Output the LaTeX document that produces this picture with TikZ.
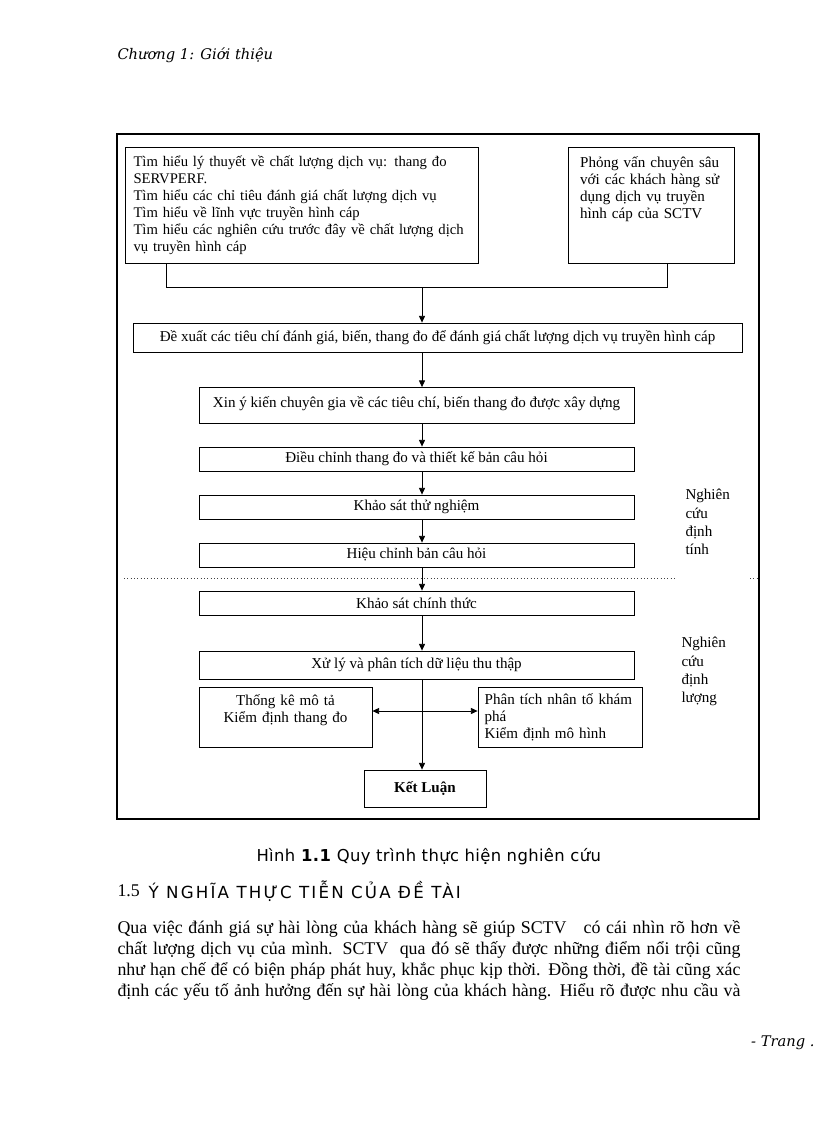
\documentclass[tikz,border=0pt]{standalone}
\usepackage{fontspec}
\setmainfont{Liberation Serif}
\newfontfamily\sansvn{DejaVu Sans}[LetterSpace=2.2]
\newfontfamily\sanswide{DejaVu Sans}[LetterSpace=13]
\newfontfamily\headvn{DejaVu Serif}
\usetikzlibrary{arrows.meta}

\tikzset{every picture/.style={line width=0.75pt}}
\tikzset{
  stepbox/.style={draw, line width=0.6pt, inner sep=0pt, font=\fontsize{11.3}{12.75}\selectfont, minimum width=326.25pt, minimum height=18pt},
  textbox/.style={draw, line width=0.6pt, inner ysep=0pt, font=\fontsize{11.3}{12.75}\selectfont},
  flow/.style={-{Triangle[length=5pt,width=4.5pt]}, line width=0.6pt},
  sidenote/.style={anchor=north west, inner sep=0pt, align=left, font=\fontsize{11.3}{13.6}\selectfont}
}

\begin{document}
\begin{tikzpicture}[x=0.75pt,y=0.75pt,yscale=-1,xscale=1]
		\useasboundingbox (0,0) rectangle (816,1123); %page of 816 x 1123
		\fill [white] (0,0) rectangle (816,1123);
		
		\draw (117,55) node [anchor=west, inner sep=0pt, font=\headvn\itshape\fontsize{11}{13}\selectfont] (chapter) {Chương 1: Giới thiệu};
		
		% frame round the figure
		\draw [line width=0.8pt] (117,134) rectangle (759,819);
		
		% two sources
		\draw (301.5,205) node [textbox, align=left, text width=252pt, inner xsep=6.4pt, minimum height=87pt, font=\fontsize{11}{12.75}\selectfont] (lit) {Tìm hiểu lý thuyết về chất lượng dịch vụ: thang đo\\SERVPERF.\\Tìm hiểu các chỉ tiêu đánh giá chất lượng dịch vụ\\Tìm hiểu về lĩnh vực truyền hình cáp\\\mbox{Tìm hiểu các nghiên cứu trước đây về chất lượng dịch}\\vụ truyền hình cáp};
		\draw (651.5,205) node [textbox, align=left, text width=107pt, inner xsep=9pt, minimum height=87pt] (interview) {Phỏng vấn chuyên sâu\\với các khách hàng sử\\dụng dịch vụ truyền\\hình cáp của SCTV\\\mbox{}\\\mbox{}};
		
		\coordinate (jl) at (166,287);
		\coordinate (jr) at (667,287);
		\coordinate (jm) at (422,287);
		\coordinate (spine) at (422,0);
		\draw [line width=0.6pt] (lit.south -| jl) -- (jl) -- (jr) -- (interview.south -| jr);
		
		% main column
		\draw (437.5,337.5) node [stepbox, minimum width=456.75pt, minimum height=21.75pt] (propose) {Đề xuất các tiêu chí đánh giá, biến, thang đo để đánh giá chất lượng dịch vụ truyền hình cáp};
		\draw (416.5,405.5) node [stepbox, minimum height=27pt, text depth=5pt] (expert) {Xin ý kiến chuyên gia về các tiêu chí, biến thang đo được xây dựng};
		\draw (416.5,459) node [stepbox] (adjust) {Điều chỉnh thang đo và thiết kế bản câu hỏi};
		\draw (416.5,507) node [stepbox] (pilot) {Khảo sát thử nghiệm};
		\draw (416.5,555) node [stepbox] (revise) {Hiệu chỉnh bản câu hỏi};
		\draw (416.5,603) node [stepbox] (survey) {Khảo sát chính thức};
		\draw (416.5,665) node [stepbox, minimum height=21pt] (analyse) {Xử lý và phân tích dữ liệu thu thập};
		
		\draw (285.5,717) node [textbox, align=center, text width=121.75pt, inner xsep=4pt, minimum height=45pt] (describe) {Thống kê mô tả\\Kiểm định thang đo\\\mbox{}};
		\draw (560,717) node [textbox, align=left, text width=113pt, inner xsep=5pt, minimum height=45pt] (efa) {Phân tích nhân tố khám\\phá\\Kiểm định mô hình};
		\draw (425,788.5) node [stepbox, minimum width=91.5pt, minimum height=27.75pt, font=\bfseries\fontsize{11.3}{12.75}\selectfont] (conclude) {Kết Luận};
		
		\draw [flow] (jm) -- (propose.north -| spine);
		\draw [flow] (propose.south -| spine) -- (expert.north -| spine);
		\draw [flow] (expert.south -| spine) -- (adjust.north -| spine);
		\draw [flow] (adjust.south -| spine) -- (pilot.north -| spine);
		\draw [flow] (pilot.south -| spine) -- (revise.north -| spine);
		\draw [flow] (revise.south -| spine) -- (survey.north -| spine);
		\draw [flow] (survey.south -| spine) -- (analyse.north -| spine);
		\draw [flow] (analyse.south -| spine) -- (conclude.north -| spine);
		\draw [{Triangle[length=5pt,width=4.5pt]}-{Triangle[length=5pt,width=4.5pt]}, line width=0.6pt] ([yshift=-4.5pt]describe.east) -- ([yshift=-4.5pt]efa.west);
		
		% split between the two phases
		\draw [dotted, line width=0.5pt, black!75] (124,578) -- (675,578);
		\draw [dotted, line width=0.5pt, black!75] (750,578) -- (757,578);
		
		\draw (685,489) node [sidenote] (qualit) {Nghiên\\cứu\\định\\tính};
		\draw (681,637) node [sidenote] (quantit) {Nghiên\\cứu\\định\\lượng};
		
		% text of the page below the figure
		\draw (256,857) node [anchor=west, inner sep=0pt, font=\sansvn\fontsize{12.3}{14}\selectfont] (caption) {Hình \textbf{1.1} Quy trình thực hiện nghiên cứu};
		\draw (117,891) node [anchor=west, inner sep=0pt, font=\fontsize{13.4}{15}\selectfont] (secno) {1.5};
		\draw (148,891) node [anchor=west, inner sep=0pt, font=\sanswide\fontsize{12.5}{14}\selectfont] (sectitle) {Ý NGHĨA THỰC TIỄN CỦA ĐỀ TÀI};
		\draw (117,920) node [anchor=north west, inner sep=0pt, text width=467.25pt, align=justify, font=\fontsize{13.4}{15.75}\selectfont] (body) {Qua việc đánh giá sự hài lòng của khách hàng sẽ giúp SCTV~~ có cái nhìn rõ hơn về\linebreak chất lượng dịch vụ của mình. SCTV~ qua đó sẽ thấy được những điểm nổi trội cũng\linebreak như hạn chế để có biện pháp phát huy, khắc phục kịp thời. Đồng thời, đề tài cũng xác\linebreak định các yếu tố ảnh hưởng đến sự hài lòng của khách hàng. Hiểu rõ được nhu cầu và\linebreak};
		\draw (815,1043) node [anchor=east, inner sep=0pt, font=\headvn\itshape\fontsize{11}{13}\selectfont] (pageno) {- Trang .};
		
	\end{tikzpicture}
\end{document}
